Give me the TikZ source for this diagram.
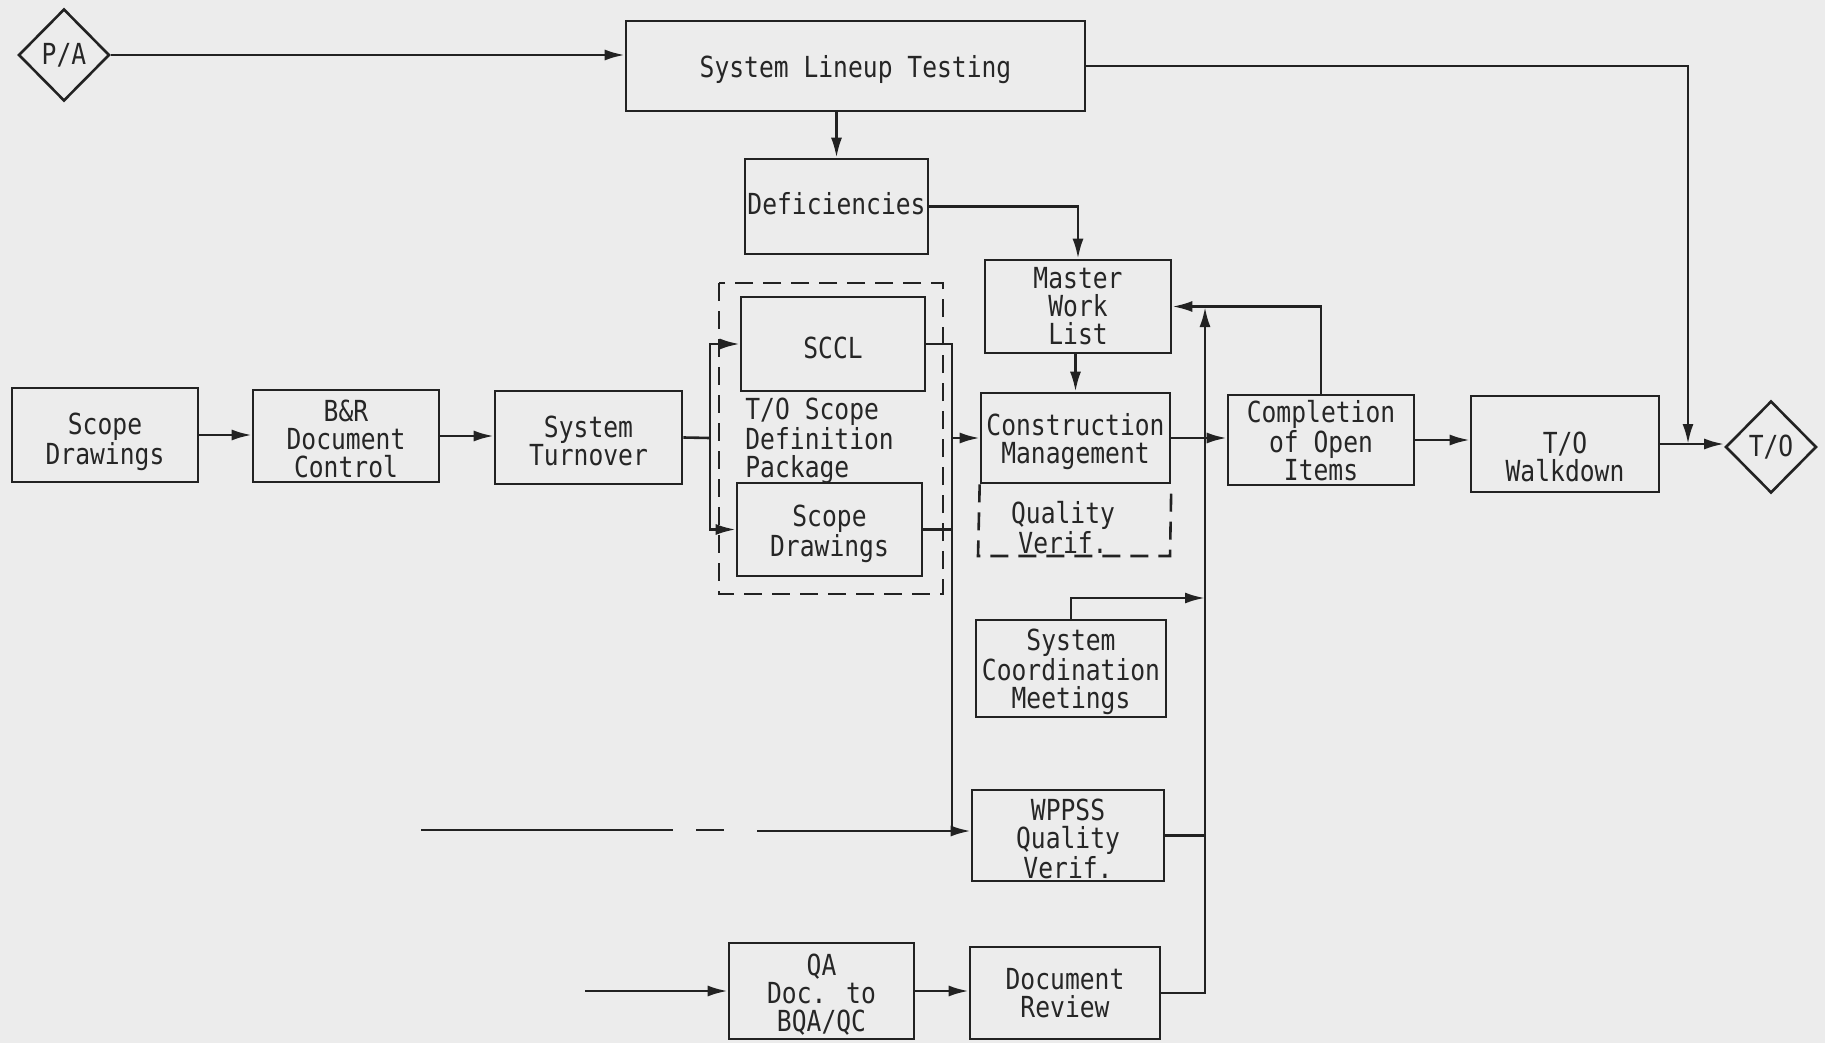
\documentclass[tikz,border=0pt]{standalone}
\usepackage{fontspec}
\setmainfont{DejaVu Sans Mono}[FakeStretch=0.85]
\usetikzlibrary{arrows.meta,shapes.geometric}
\definecolor{bg}{HTML}{ECECEC}
\definecolor{ink}{HTML}{222222}
\definecolor{txt}{HTML}{262626}
\newcommand\bx[7]{%
  \node[box,minimum width={(#4-#2)*0.5pt},minimum height={(#5-#3)*0.5pt}] (#1) at ({(#2+#4)/2},{(#3+#5)/2}) {};
  \node[lbl] (#1-t) at ([yshift={-(#6)*0.5pt}]#1.center) {#7};}
\begin{document}
\begin{tikzpicture}[x=0.5pt,y=-0.5pt,
  font=\fontsize{14.5}{14}\selectfont,
  every node/.style={text=txt},
  box/.style={draw=ink,line width=1.3pt,inner sep=0pt},
  lbl/.style={inner sep=0pt,align=center},
  dia/.style={draw=ink,line width=1.3pt,diamond,aspect=1,inner sep=0pt,minimum width=45.5pt,minimum height=46pt},
  ln/.style={draw=ink,line width=1.3pt},
  arr/.style={ln,-{Latex[length=10pt,width=5.5pt]}},
  dsh/.style={draw=ink,line width=1.3pt,dash pattern=on 9pt off 5pt}]
\fill[bg] (0,0) rectangle (1825,1043);
\useasboundingbox (0,0) rectangle (1825,1043);
% nodes
\node[dia] (PA) at (64,55) {P/A};
\node[dia] (TO) at (1771,447) {T/O};
\bx{SLT}{626}{21}{1085}{111}{4}{System Lineup Testing}
\bx{Def}{745}{159}{928}{254}{-3}{Deficiencies}
\bx{MWL}{985}{260}{1171}{353}{0}{Master\\Work\\List}
\bx{SCCL}{741}{297}{925}{391}{4}{SCCL}
\bx{SDi}{737}{483}{922}{576}{4}{Scope\\Drawings}
\bx{CM}{981}{393}{1170}{483}{4}{Construction\\Management}
\bx{CO}{1228}{395}{1414}{485}{1}{Completion\\of Open\\Items}
\bx{WD}{1471}{396}{1659}{492}{13}{T/O\\Walkdown}
\bx{SD}{12}{388}{198}{482}{7}{Scope\\Drawings}
\bx{BR}{253}{390}{439}{482}{3}{B\&R\\Document\\Control}
\bx{ST}{495}{391}{682}{484}{3}{System\\Turnover}
\bx{SCM}{976}{620}{1166}{717}{3}{System\\Coordination\\Meetings}
\bx{WP}{972}{790}{1164}{881}{3}{WPPSS\\Quality\\Verif.}
\bx{QA}{729}{943}{914}{1039}{4}{QA\\Doc. to\\BQA/QC}
\bx{DR}{970}{947}{1160}{1039}{0}{Document\\Review}
\node[align=left,anchor=west,inner sep=0pt] (TOS) at (745,441) {T/O Scope\\Definition\\Package};
\node[align=center,inner sep=0pt] (QV) at (1063,528) {Quality\\Verif.};
% dashed enclosures
\coordinate (o1) at (719,283);
\coordinate (o2) at (943,594);
\draw[dsh] (o1) rectangle (o2);
\coordinate (q1) at (978,556);
\coordinate (q2) at (1170,556);
\draw[dsh] (CM.south west) -- (q1) -- (q2) -- (CM.south east);
% connectors
\draw[arr] (SD.east) -- (SD.east -| BR.west);
\draw[arr] (BR.east) -- (BR.east -| ST.west);
\draw[arr] (PA.east) -- (PA.east -| SLT.west);
\coordinate (tj) at (1688,444);
\draw[arr] (SLT.east) -| (tj);
\draw[arr] (Def.north |- SLT.south) -- (Def.north);
\draw[arr] (Def.east) -| (MWL.north);
\draw[arr] (CM.north |- MWL.south) -- (CM.north);
\coordinate (sp) at (710,438);
\draw[ln] (ST.east) -- (sp);
\draw[arr] (sp) |- (SCCL.west);
\draw[arr] (sp) |- (SDi.west);
\coordinate (vb) at (952,831);
\draw[ln] (SCCL.east) -| (vb);
\draw[ln] (SDi.east) -- (SDi.east -| vb);
\draw[arr] (CM.west -| vb) -- (CM.west);
\coordinate (d1) at (421,830);
\coordinate (d2) at (673,830);
\coordinate (d3) at (696,830);
\coordinate (d4) at (724,830);
\coordinate (d5) at (757,831);
\draw[ln] (d1) -- (d2);
\draw[ln] (d3) -- (d4);
\draw[arr] (d5) -- (d5 -| WP.west);
\coordinate (bt) at (1205,307);
\coordinate (sct) at (1205,598);
\draw[arr] (DR.east) -| (bt);
\draw[ln] (WP.east) -- (WP.east -| bt);
\draw[arr] (SCM.north) |- (sct);
\draw[arr] (CM.east) -- (CM.east -| CO.west);
\draw[arr] (CO.north) |- (MWL.east);
\draw[arr] (CO.east) -- (CO.east -| WD.west);
\draw[arr] (WD.east) -- (WD.east -| TO.west);
\draw[arr] (QA.east) -- (QA.east -| DR.west);
\coordinate (qin) at (585,991);
\draw[arr] (qin) -- (QA.west);
\end{tikzpicture}
\end{document}
